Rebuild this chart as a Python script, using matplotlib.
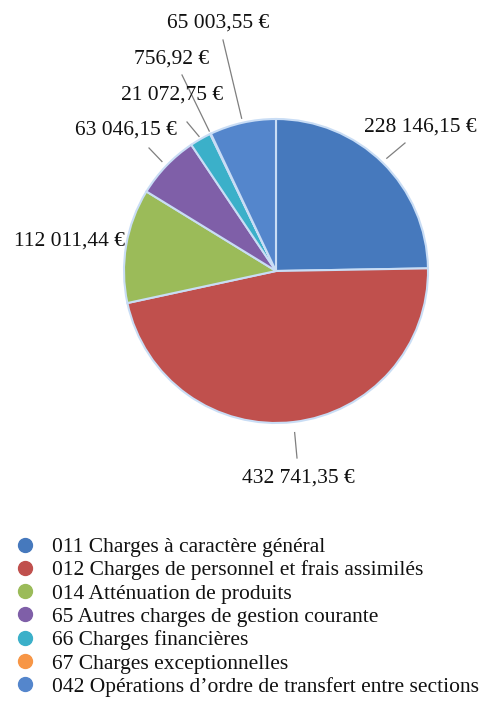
import numpy as np
import matplotlib
matplotlib.use('Agg')
import matplotlib.pyplot as plt
from matplotlib.lines import Line2D

plt.rcParams['font.family'] = ['Liberation Serif', 'DejaVu Serif']

categories = ['011 Charges à caractère général',
              '012 Charges de personnel et frais assimilés',
              '014 Atténuation de produits',
              '65 Autres charges de gestion courante',
              '66 Charges financières',
              '67 Charges exceptionnelles',
              '042 Opérations d\u2019ordre de transfert entre sections']
values = [228146.15, 432741.35, 112011.44, 63046.15, 21072.75, 756.92, 65003.55]
value_labels = ['228 146,15 €', '432 741,35 €', '112 011,44 €', '63 046,15 €',
                '21 072,75 €', '756,92 €', '65 003,55 €']
colors = ['#4679BD', '#C0504D', '#9BBB59', '#7F5FA8', '#3BB0C9', '#F79646', '#5486CC']

W, H = 488, 711
fig = plt.figure(figsize=(W / 100, H / 100), dpi=100)
ax = fig.add_axes([0, 0, 1, 1])

cx, cy, R = 276, H - 271, 152
wedges, _ = ax.pie(values, colors=colors, startangle=90, counterclock=False,
                   center=(cx, cy), radius=R, frame=True,
                   wedgeprops=dict(edgecolor='#C9DDF5', linewidth=1.5))
ax.set_xlim(0, W)
ax.set_ylim(0, H)
ax.axis('off')

# label text centres and leader line ends (pixel coords, y from top)
text_pos = [(420, 127), (298, 478), (69, 241), (126, 130), (172, 95), (172, 59), (218, 23)]
line_end = [(405, 143), (297, 458), None, (149, 148), (187, 122), (182, 75), (223, 40)]
line_r = [1.04, 1.07, 0, 1.04, 1.02, 1.02, 1.03]

for w, lab, tp, le, lr in zip(wedges, value_labels, text_pos, line_end, line_r):
    mid = np.deg2rad((w.theta1 + w.theta2) / 2)
    if le is not None:
        x0 = cx + lr * R * np.cos(mid)
        y0 = cy + lr * R * np.sin(mid)
        ax.plot([x0, le[0]], [y0, H - le[1]], color='#7F7F7F', lw=0.9)
    ax.text(tp[0], H - tp[1], lab, ha='center', va='center', fontsize=15.5,
            color='#111111')

handles = [Line2D([], [], marker='o', linestyle='', markersize=10,
                  markerfacecolor=c, markeredgecolor=c) for c in colors]
fig.legend(handles, categories, loc='upper left', bbox_to_anchor=(0.025, 1 - 537 / H),
           frameon=False, fontsize=15.5, handletextpad=0.65, labelspacing=0.15,
           handlelength=1.2, borderaxespad=0, borderpad=0, labelcolor='#111111')

fig.savefig('out.png', dpi=100)
